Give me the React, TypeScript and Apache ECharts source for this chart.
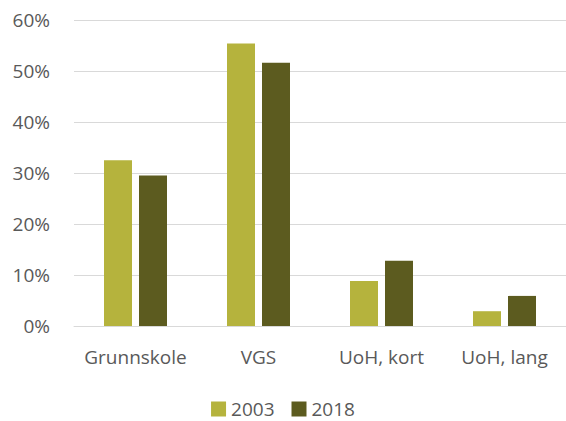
import React, { useEffect, useRef } from "react";
import * as echarts from "echarts";

const categories = ["Grunnskole", "VGS", "UoH, kort", "UoH, lang"];
const seriesNames = ["2003", "2018"];
const values2003 = [32.5, 55.4, 8.8, 2.9];
const values2018 = [29.5, 51.6, 12.8, 5.9];
const colors = ["#B5B33D", "#5C5B1F"];

export default function App() {
  const ref = useRef<HTMLDivElement>(null);
  useEffect(() => {
    if (!ref.current) return;
    const chart = echarts.init(ref.current, null, { renderer: "svg" });
    const font = "Open Sans";
    chart.setOption({
      animation: false,
      textStyle: { fontFamily: font },
      grid: { left: 74, right: 0, top: 20, bottom: 95, containLabel: false },
      legend: {
        bottom: 2,
        left: "center",
        padding: 0,
        itemWidth: 15,
        itemHeight: 15,
        itemGap: 17,
        icon: "rect",
        textStyle: { fontSize: 19, lineHeight: 20, color: "#595959", fontFamily: font },
        data: seriesNames,
      },
      xAxis: {
        type: "category",
        data: categories,
        axisLine: { show: true, lineStyle: { color: "#D9D9D9", width: 1 } },
        axisTick: { show: false },
        axisLabel: { fontSize: 19, color: "#595959", margin: 21, interval: 0, fontFamily: font },
      },
      yAxis: {
        type: "value",
        min: 0,
        max: 60,
        interval: 10,
        axisLine: { show: false },
        axisTick: { show: false },
        splitLine: { lineStyle: { color: "#D9D9D9", width: 1 } },
        axisLabel: {
          fontSize: 19,
          color: "#595959",
          margin: 24,
          fontFamily: font,
          formatter: (v: number) => v + "%",
        },
      },
      series: [
        {
          name: seriesNames[0],
          type: "bar",
          data: values2003,
          barWidth: 28,
          barGap: "25%",
          itemStyle: { color: colors[0] },
        },
        {
          name: seriesNames[1],
          type: "bar",
          data: values2018,
          barWidth: 28,
          barGap: "25%",
          itemStyle: { color: colors[1] },
        },
      ],
    });
    return () => chart.dispose();
  }, []);
  return (
    <div
      ref={ref}
      style={{ position: "fixed", left: 0, top: 0, width: 566, height: 421, background: "#fff" }}
    />
  );
}
